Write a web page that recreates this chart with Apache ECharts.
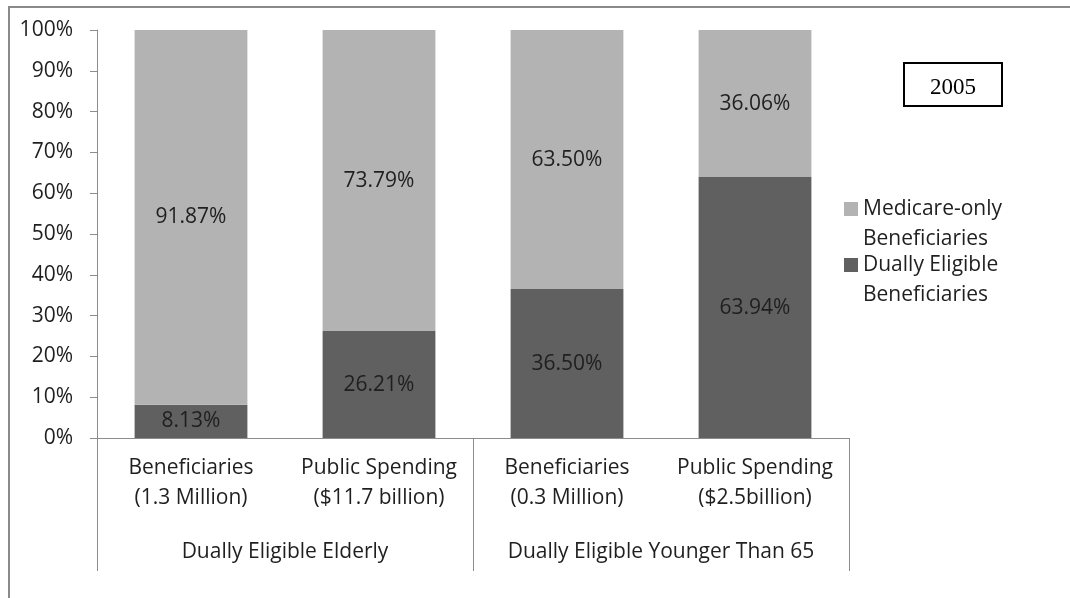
<!DOCTYPE html>
<html>
<head>
<meta charset="utf-8">
<script src="https://cdn.jsdelivr.net/npm/echarts@6/dist/echarts.min.js"></script>
<style>
html,body{margin:0;padding:0;background:#fff;}
#chart{width:1070px;height:598px;}
</style>
</head>
<body>
<div id="chart"></div>
<script>
// ---- data ----
var categories = ['Beneficiaries\n(1.3 Million)', 'Public Spending\n($11.7 billion)', 'Beneficiaries\n(0.3 Million)', 'Public Spending\n($2.5billion)'];
var groups = ['Dually Eligible Elderly', 'Dually Eligible Younger Than 65'];
var duallyEligible = [8.13, 26.21, 36.50, 63.94];
var medicareOnly = [91.87, 73.79, 63.50, 36.06];
var seriesNames = ['Dually Eligible Beneficiaries', 'Medicare-only Beneficiaries'];
var yTicks = [0, 10, 20, 30, 40, 50, 60, 70, 80, 90, 100];
var yearLabel = '2005';

var FONT = 'Open Sans';
var FS = 21;
var TXT = '#1f1f1f';
var AXIS = '#8c8c8c';

var chart = echarts.init(document.getElementById('chart'), null, {renderer: 'canvas'});

// first line blank so the square lines up with the first line of the name
function legendFmt(name) { return ' \n' + name.replace(/ (\S+)$/, '\n$1'); }
var legendText = {fontFamily: FONT, fontSize: FS, color: TXT, lineHeight: 30};

var option = {
  animation: false,
  backgroundColor: '#fff',
  grid: {left: 97, right: 221, top: 30, bottom: 160, containLabel: false},
  legend: [
    {data: [seriesNames[1]], left: 844, top: 164, padding: 0, itemWidth: 14, itemHeight: 14, icon: 'rect',
     formatter: legendFmt, textStyle: legendText, selectedMode: false},
    {data: [seriesNames[0]], left: 844, top: 220, padding: 0, itemWidth: 14, itemHeight: 14, icon: 'rect',
     formatter: legendFmt, textStyle: legendText, selectedMode: false}
  ],
  xAxis: [
    {
      type: 'category', data: categories, position: 'bottom',
      axisLine: {show: true, lineStyle: {color: AXIS, width: 1}},
      axisTick: {show: false},
      axisLabel: {interval: 0, margin: 15, fontFamily: FONT, fontSize: FS, color: TXT, lineHeight: 30}
    },
    {
      type: 'category', data: groups, position: 'bottom', gridIndex: 0,
      axisLine: {show: true, lineStyle: {color: AXIS, width: 1}},
      axisTick: {show: true, interval: 0, length: 133, lineStyle: {color: AXIS, width: 1}},
      axisLabel: {interval: 0, margin: 99, fontFamily: FONT, fontSize: FS, color: TXT, lineHeight: 30}
    }
  ],
  yAxis: {
    type: 'value', min: yTicks[0], max: yTicks[yTicks.length - 1], interval: yTicks[1] - yTicks[0],
    axisLine: {show: true, lineStyle: {color: AXIS, width: 1}},
    axisTick: {show: true, length: 7, lineStyle: {color: AXIS}},
    splitLine: {show: false},
    axisLabel: {margin: 24, fontFamily: FONT, fontSize: FS, color: TXT, formatter: '{value}%'}
  },
  series: [
    {
      name: seriesNames[0], type: 'bar', stack: 'total', xAxisIndex: 0, data: duallyEligible,
      barWidth: '60%', itemStyle: {color: '#606060'},
      label: {show: true, position: 'inside', fontFamily: FONT, fontSize: FS, color: TXT,
              formatter: function (p) { return p.value.toFixed(2) + '%'; }}
    },
    {
      name: seriesNames[1], type: 'bar', stack: 'total', xAxisIndex: 0, data: medicareOnly,
      barWidth: '60%', itemStyle: {color: '#b3b3b3'},
      label: {show: true, position: 'inside', fontFamily: FONT, fontSize: FS, color: TXT,
              formatter: function (p) { return p.value.toFixed(2) + '%'; }}
    }
  ],
  graphic: [
    {type: 'rect', silent: true, z: -10, shape: {x: 9, y: 7, width: 1200, height: 800},
     style: {fill: 'none', stroke: '#8a8a8a', lineWidth: 2}},
    {type: 'rect', silent: true, shape: {x: 904, y: 63, width: 98, height: 43},
     style: {fill: '#fff', stroke: '#000', lineWidth: 2}},
    {type: 'text', silent: true, x: 953, y: 88,
     style: {text: yearLabel, font: '23px "Liberation Serif"', fill: '#000', align: 'center', verticalAlign: 'middle'}}
  ]
};
chart.setOption(option);
</script>
</body>
</html>
